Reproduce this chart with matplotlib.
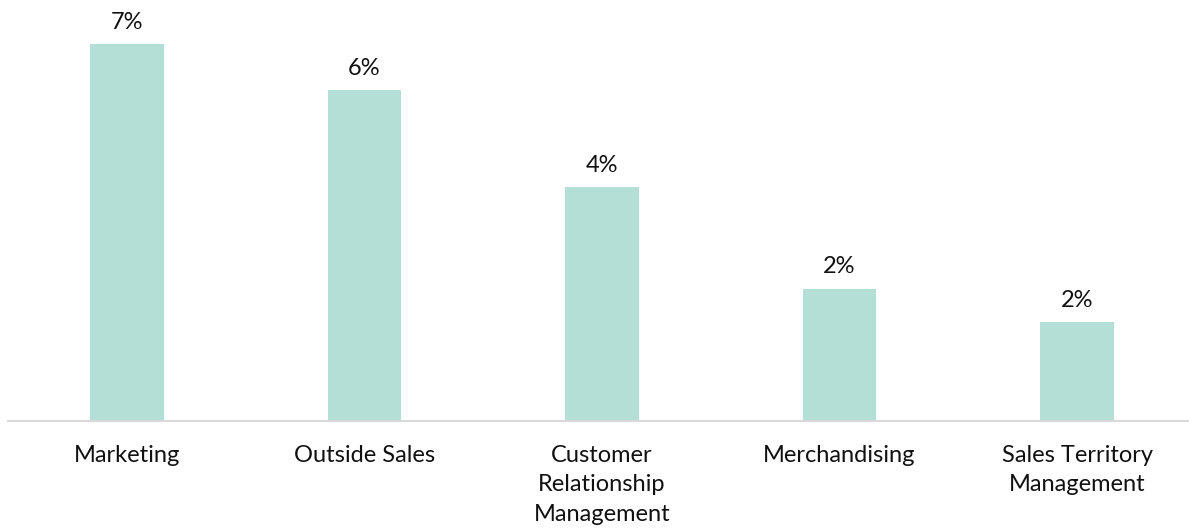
import matplotlib
matplotlib.use("Agg")
import matplotlib.pyplot as plt

categories = ["Marketing", "Outside Sales", "Customer\nRelationship\nManagement",
              "Merchandising", "Sales Territory\nManagement"]
values = [7.0, 6.14, 4.34, 2.46, 1.84]

bar_color = "#B3DFD6"
plt.rcParams['font.family'] = ['Lato', 'DejaVu Sans']

W, H = 1189, 531
fig = plt.figure(figsize=(W / 100, H / 100), dpi=100)
left = 8.25 / W
width = 1187.5 / W
bottom = 110 / H
height = 421 / H
ax = fig.add_axes([left, bottom, width, height])

x = list(range(len(categories)))
bars = ax.bar(x, values, width=0.31, color=bar_color, zorder=2)
ax.set_xlim(-0.5, len(categories) - 0.5)
ax.set_ylim(0, 7.0 * 421 / 377)

for rect, v in zip(bars, values):
    ax.annotate(f"{v:.0f}%", (rect.get_x() + rect.get_width() / 2, rect.get_height()),
                xytext=(0, 8), textcoords="offset points", ha="center", va="bottom",
                fontsize=17, color="#111111")

ax.set_xticks(x)
ax.set_xticklabels(categories, fontsize=17, color="#111111", linespacing=1.52)
ax.tick_params(axis="x", length=0, pad=17)
ax.set_yticks([])
for s in ["top", "right", "left"]:
    ax.spines[s].set_visible(False)
ax.spines["bottom"].set_color("#D9D9D9")
ax.spines["bottom"].set_linewidth(1.5)

fig.savefig("out.png", dpi=100)
